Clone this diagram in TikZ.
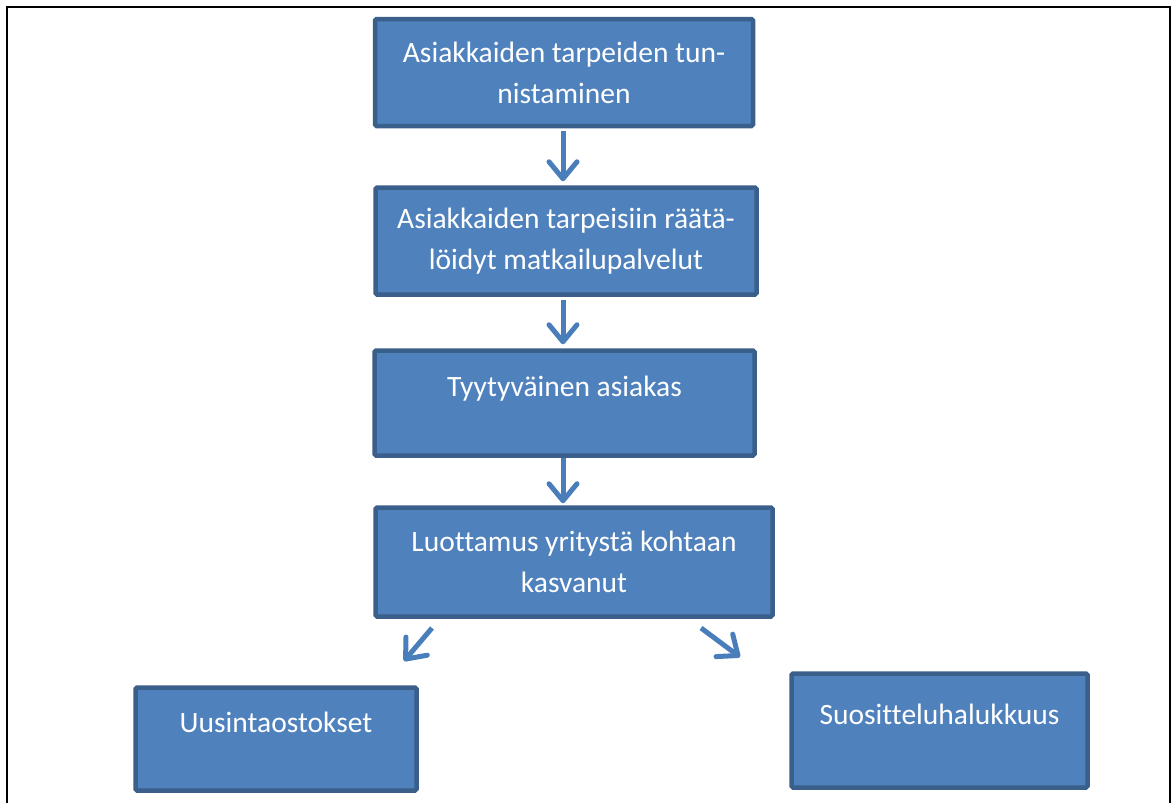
\documentclass[tikz,border=0pt]{standalone}
\usepackage{fontspec}
\setmainfont{Carlito}[Ligatures=NoCommon]
\usetikzlibrary{arrows.meta}
\definecolor{boxfill}{HTML}{4F81BD}
\definecolor{boxline}{HTML}{3A5F8B}
\definecolor{arrowblue}{HTML}{4A7EBB}

\begin{document}
\begin{tikzpicture}[x=1pt, y=-1pt,
  box/.style={draw=boxline, fill=boxfill, line width=4.5pt, rounded corners=1.5pt, text=white, align=center, inner sep=0pt, font=\fontsize{29.5}{41}\selectfont},
  single/.style={text height=20pt, text depth=33pt},
  flow/.style={draw=arrowblue, line width=5pt, -{Straight Barb[length=17pt,width=28pt,round]}}]
  \useasboundingbox (0,0) rectangle (1173,803);
  \draw[line width=2.5pt] (7,803) -- (7,7) -- (1170,7) -- (1170,803);
  \node[box, minimum width=378pt, minimum height=107pt] (tunnistus) at (564,72.5) {Asiakkaiden tarpeiden tun-\\nistaminen};
  \node[box, minimum width=381pt, minimum height=107pt] (palvelut) at (566,241) {Asiakkaiden tarpeisiin räätä-\\löidyt matkailupalvelut};
  \node[box, single, minimum width=380pt, minimum height=105pt] (tyytyvainen) at (564.5,403) {Tyytyväinen asiakas};
  \node[box, minimum width=397pt, minimum height=109pt] (luottamus) at (574,562) {Luottamus yritystä kohtaan\\kasvanut};
  \node[box, single, minimum width=281pt, minimum height=103pt] (uusinta) at (276,739) {Uusintaostokset};
  \node[box, single, minimum width=296pt, minimum height=114pt] (suosittelu) at (939.5,730.5) {Suositteluhalukkuus};
  \coordinate (vasenA) at (432,628);
  \coordinate (vasenB) at (404,661);
  \coordinate (oikeaA) at (701,628);
  \coordinate (oikeaB) at (740,657);
  \draw[flow, shorten <=3pt, shorten >=4pt] (tunnistus.south -| 563,0) -- (palvelut.north -| 563,0);
  \draw[flow, shorten <=3pt, shorten >=4pt] (palvelut.south -| 563,0) -- (tyytyvainen.north -| 563,0);
  \draw[flow, shorten <=0pt, shorten >=2pt] (tyytyvainen.south -| 563,0) -- (luottamus.north -| 563,0);
  \draw[flow] (vasenA) -- (vasenB);
  \draw[flow] (oikeaA) -- (oikeaB);
\end{tikzpicture}
\end{document}
